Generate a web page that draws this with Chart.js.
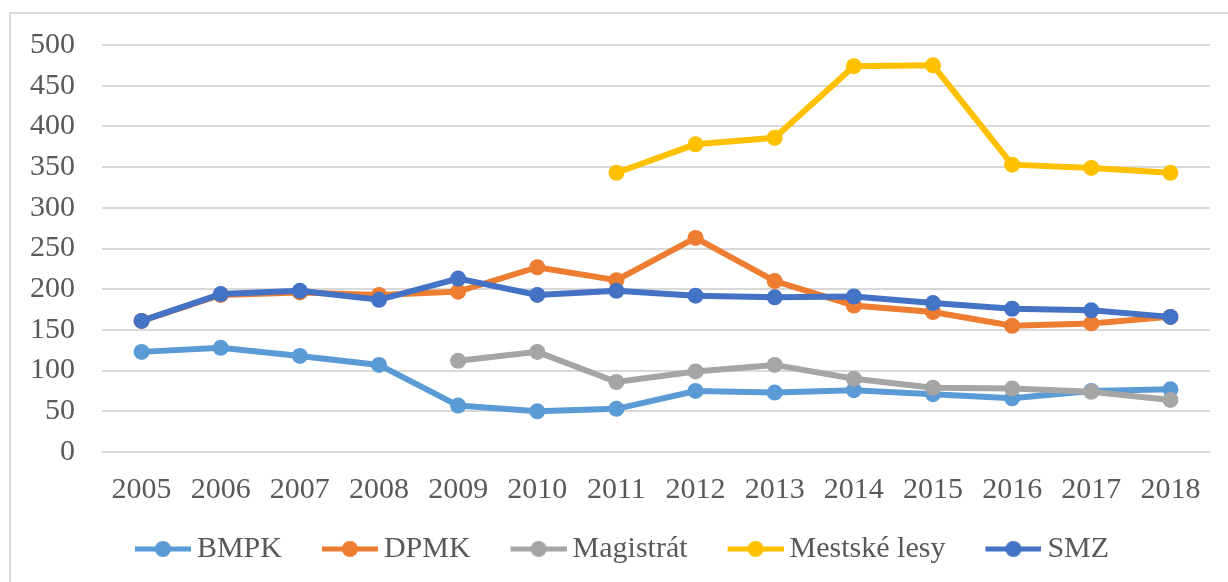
<!DOCTYPE html>
<html>
<head>
<meta charset="utf-8">
<script src="https://cdn.jsdelivr.net/npm/chart.js@4/dist/chart.umd.min.js"></script>
<style>
    body { margin: 0; background: #fff; overflow: hidden; }
    #wrap { position: relative; width: 1228px; height: 582px; }
    #frame { position: absolute; left: 9px; top: 12px; width: 1240px; height: 600px; border: 2px solid #d9d9d9; box-sizing: border-box; }
    canvas { position: absolute; left: 0; top: 0; }
</style>
</head>
<body>
<div id="wrap">
    <div id="frame"></div>
    <canvas id="lineChart" width="1228" height="582"></canvas>
</div>
<script>
const years = ['2005', '2006', '2007', '2008', '2009', '2010', '2011', '2012', '2013', '2014', '2015', '2016', '2017', '2018'];
const bmpk = [123, 128, 118, 107, 57, 50, 53, 75, 73, 76, 71, 66, 75, 77];
const dpmk = [161, 193, 196, 193, 197, 227, 211, 263, 210, 180, 172, 155, 158, 166];
const magistrat = [null, null, null, null, 112, 123, 86, 99, 107, 90, 79, 78, 74, 64];
const mestskeLesy = [null, null, null, null, null, null, 343, 378, 386, 474, 475, 353, 349, 343];
const smz = [161, 194, 198, 187, 213, 193, 198, 192, 190, 191, 183, 176, 174, 166];

const fontFamily = '"Liberation Serif", "Times New Roman", serif';
const textColor = '#595959';

// legend image: line-with-dot pushed to the right end so it sits close to its text
function legendIcon(color) {
    const c = document.createElement('canvas');
    c.width = 99;
    c.height = 18;
    const g = c.getContext('2d');
    g.strokeStyle = color;
    g.lineWidth = 5;
    g.beginPath();
    g.moveTo(43, 9);
    g.lineTo(99, 9);
    g.stroke();
    g.fillStyle = color;
    g.beginPath();
    g.arc(71, 9, 8, 0, Math.PI * 2);
    g.fill();
    return c;
}

// last series on top, like the original
function series(label, data, color, order) {
    return {
        label: label,
        data: data,
        order: order,
        borderColor: color,
        backgroundColor: color,
        borderWidth: 6,
        pointRadius: 8,
        pointHoverRadius: 8,
        pointBorderWidth: 0,
        pointStyle: 'circle',
        tension: 0,
        icon: legendIcon(color)
    };
}

function createLineChart() {
    const ctx = document.getElementById('lineChart').getContext('2d');
    new Chart(ctx, {
        type: 'line',
        data: {
            labels: years,
            datasets: [
                series('BMPK', bmpk, '#5b9bd5', 4),
                series('DPMK', dpmk, '#ed7d31', 3),
                series('Magistrát', magistrat, '#a5a5a5', 2),
                series('Mestské lesy', mestskeLesy, '#ffc000', 1),
                series('SMZ', smz, '#4472c4', 0)
            ]
        },
        options: {
            responsive: false,
            animation: false,
            layout: {
                padding: { top: 44, right: 18, bottom: 8, left: 0 }
            },
            plugins: {
                tooltip: { enabled: false },
                title: { display: false },
                legend: {
                    position: 'bottom',
                    labels: {
                        usePointStyle: true,
                        pointStyleWidth: 81,
                        boxHeight: 18,
                        padding: 6,
                        color: textColor,
                        font: { family: fontFamily, size: 30 },
                        generateLabels: function (chart) {
                            return chart.data.datasets.map(function (ds, i) {
                                return {
                                    text: ds.label,
                                    pointStyle: ds.icon,
                                    fillStyle: ds.borderColor,
                                    strokeStyle: ds.borderColor,
                                    lineWidth: 0,
                                    fontColor: textColor,
                                    hidden: false,
                                    datasetIndex: i
                                };
                            });
                        }
                    }
                }
            },
            scales: {
                x: {
                    offset: true,
                    grid: { display: false, drawTicks: false },
                    border: { display: false },
                    ticks: {
                        padding: 20,
                        color: textColor,
                        maxRotation: 0,
                        autoSkip: false,
                        font: { family: fontFamily, size: 30 }
                    }
                },
                y: {
                    min: 0,
                    max: 500,
                    ticks: {
                        stepSize: 50,
                        autoSkip: false,
                        padding: 27,
                        color: textColor,
                        font: { family: fontFamily, size: 30 }
                    },
                    grid: { color: '#d9d9d9', lineWidth: 2, drawTicks: false },
                    border: { display: false },
                    afterFit: function (scale) {
                        scale.width = 102;
                    }
                }
            }
        }
    });
}

createLineChart();
</script>
</body>
</html>
